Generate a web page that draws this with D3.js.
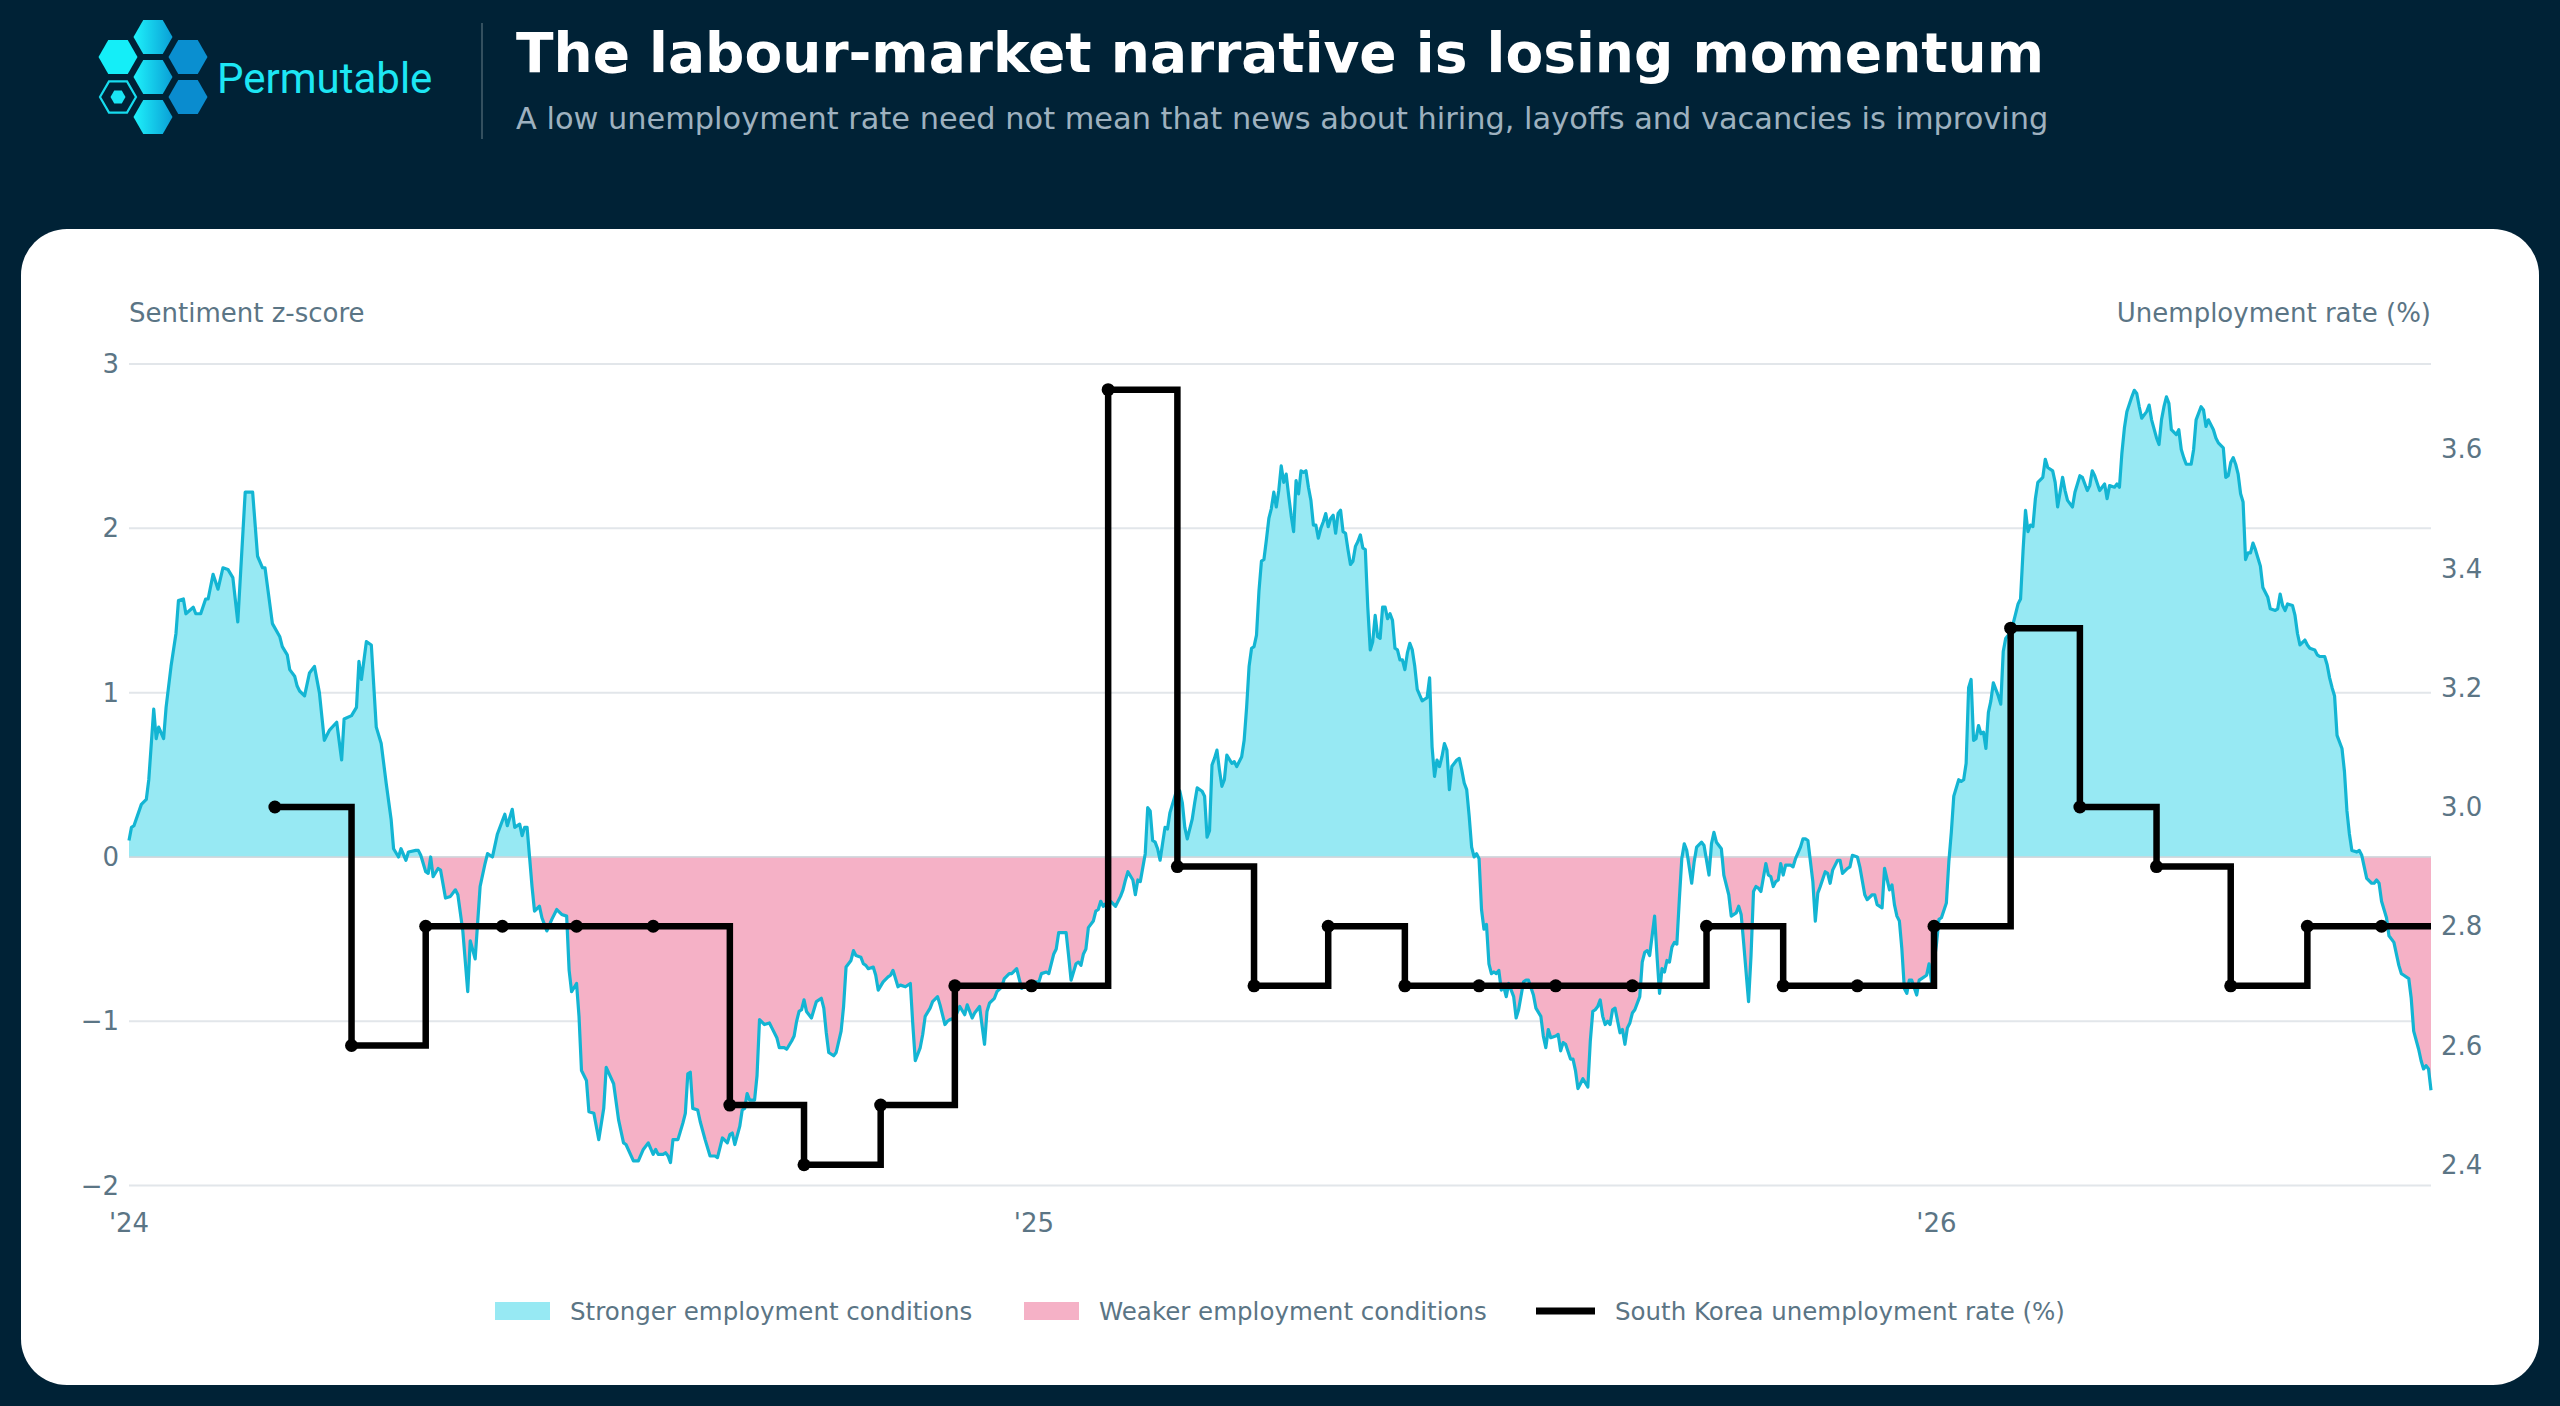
<!DOCTYPE html>
<html>
<head>
<meta charset="utf-8">
<script src="https://cdn.jsdelivr.net/npm/d3@7"></script>
<style>
  html, body { margin: 0; padding: 0; background: #002236; }
  svg { display: block; }
</style>
</head>
<body>
<script>
const startDate = Date.UTC(2024, 0, 1)
const endDate = Date.UTC(2026, 6, 20)

// sentiment z-score, [days since 1 Jan 2024, value]
const sentiment = [
  [0,0.10],[1,0.18],[2,0.19],[5,0.32],[7,0.35],[8,0.47],[10,0.90],[11,0.72],[12,0.79],[14,0.72],
  [15,0.91],[17,1.16],[19,1.36],[20,1.56],[22,1.57],[23,1.48],[26,1.52],[27,1.48],[29,1.48],[31,1.57],
  [32,1.57],[34,1.72],[36,1.63],[38,1.76],[40,1.75],[42,1.70],[44,1.43],[47,2.22],[50,2.22],[52,1.83],
  [54,1.76],[55,1.76],[58,1.42],[61,1.34],[62,1.28],[64,1.23],[65,1.14],[67,1.10],[68,1.04],[69,1.01],
  [71,0.98],[73,1.12],[75,1.16],[77,1.00],[79,0.71],[81,0.77],[84,0.82],[86,0.59],[87,0.84],[90,0.86],
  [92,0.91],[93,1.19],[94,1.08],[96,1.31],[98,1.29],[100,0.79],[102,0.69],[104,0.45],
  [106,0.23],[107,0.05],[109,0.00],[110,0.05],[112,-0.02],[113,0.03],[116,0.04],[117,0.04],[118,0.01],[120,-0.09],
  [121,-0.10],[122,0.00],[123,-0.12],[125,-0.07],[126,-0.08],[128,-0.25],[130,-0.24],[132,-0.20],[133,-0.23],[135,-0.45],
  [137,-0.82],[138,-0.51],[140,-0.62],[142,-0.18],[144,-0.04],[145,0.02],[147,0.00],[149,0.14],[151,0.22],[152,0.26],
  [153,0.19],[155,0.29],[156,0.18],[158,0.20],[159,0.13],[160,0.18],[161,0.18],[163,-0.18],[164,-0.33],[166,-0.30],
  [167,-0.37],[169,-0.45],[171,-0.38],[173,-0.32],[175,-0.35],[177,-0.36],[178,-0.69],[179,-0.82],[181,-0.77],[182,-0.97],
  [183,-1.30],[185,-1.36],[186,-1.55],[188,-1.56],[190,-1.72],[192,-1.53],[193,-1.28],[196,-1.38],[198,-1.60],[200,-1.74],
  [201,-1.75],[204,-1.85],[206,-1.85],[208,-1.78],
  [210,-1.74],[212,-1.81],[213,-1.78],[214,-1.81],[216,-1.81],[217,-1.80],[218,-1.82],[219,-1.86],[220,-1.72],[222,-1.72],
  [223,-1.67],[224,-1.62],[225,-1.56],[226,-1.32],[227,-1.31],[228,-1.53],[230,-1.54],[231,-1.61],[233,-1.72],[235,-1.82],
  [237,-1.82],[238,-1.83],[240,-1.71],[242,-1.74],[243,-1.69],[244,-1.68],[245,-1.75],[247,-1.64],[248,-1.54],[249,-1.53],
  [250,-1.44],[251,-1.48],[253,-1.48],[254,-1.33],[255,-0.99],[257,-1.02],[259,-1.01],[260,-1.04],[262,-1.10],[263,-1.16],
  [265,-1.16],[266,-1.17],[268,-1.12],[269,-1.09],[270,-1.00],[271,-0.94],[272,-0.93],[273,-0.87],[274,-0.94],[276,-0.98],
  [277,-0.93],[278,-0.88],[280,-0.86],[281,-0.92],[282,-1.07],[283,-1.19],[285,-1.21],[286,-1.19],[288,-1.06],[289,-0.91],
  [290,-0.67],[292,-0.63],[293,-0.57],[294,-0.60],[296,-0.61],[297,-0.65],[298,-0.66],[299,-0.68],[301,-0.67],[302,-0.72],
  [303,-0.81],[305,-0.76],[307,-0.73],[308,-0.72],[309,-0.69],[311,-0.79],[312,-0.78],
  [314,-0.79],[316,-0.77],[317,-1.02],[318,-1.24],[320,-1.16],[321,-1.08],[322,-0.97],[324,-0.92],[325,-0.88],[327,-0.85],
  [328,-0.90],[330,-1.02],[331,-1.00],[332,-0.99],[334,-0.98],[336,-0.91],[338,-0.96],[339,-0.90],[341,-0.98],[342,-0.95],
  [344,-0.91],[346,-1.14],[347,-0.94],[348,-0.89],[350,-0.86],[351,-0.82],[353,-0.79],[354,-0.74],[356,-0.71],[357,-0.71],
  [359,-0.68],[360,-0.74],[361,-0.80],[363,-0.78],[365,-0.76],[368,-0.76],[369,-0.71],[371,-0.70],[372,-0.71],[374,-0.59],
  [375,-0.56],[376,-0.46],[378,-0.46],[379,-0.46],[380,-0.60],[381,-0.75],[383,-0.65],[384,-0.64],[385,-0.66],[386,-0.59],
  [387,-0.56],[388,-0.43],[390,-0.39],[391,-0.33],[392,-0.32],[393,-0.27],[394,-0.30],[396,-0.27],[397,-0.27],[399,-0.30],
  [401,-0.24],[402,-0.20],[403,-0.14],[404,-0.09],[406,-0.14],[407,-0.23],[408,-0.14],[409,-0.15],[411,0.02],[412,0.30],
  [413,0.28],[414,0.10],[415,0.09],
  [416,0.05],[417,-0.02],[418,0.08],[419,0.18],[420,0.17],[421,0.27],[422,0.32],[424,0.42],[425,0.40],[426,0.33],
  [427,0.18],[428,0.11],[430,0.23],[431,0.33],[432,0.42],[434,0.40],[435,0.37],[436,0.12],[437,0.16],[438,0.56],
  [439,0.60],[440,0.65],[441,0.53],[442,0.43],[443,0.47],[444,0.62],[446,0.57],[447,0.58],[448,0.55],[450,0.61],
  [451,0.71],[452,0.91],[453,1.16],[454,1.27],[455,1.28],[456,1.35],[457,1.62],[458,1.80],[459,1.81],[460,1.93],
  [461,2.06],[462,2.12],[463,2.22],[464,2.13],[465,2.23],[466,2.38],[467,2.28],[468,2.33],[469,2.20],[470,2.08],
  [471,1.98],[472,2.29],[473,2.21],[474,2.35],[475,2.34],[476,2.35],[477,2.25],[478,2.17],[479,2.02],[480,2.02],
  [481,1.94],[482,2.00],[483,2.04],[484,2.09],[485,2.01],[486,2.06],[487,2.08],[488,1.97],[489,2.09],[490,2.11],
  [491,1.98],[492,1.97],[493,1.87],[494,1.78],[495,1.80],[496,1.89],[497,1.92],[498,1.96],[499,1.88],[500,1.87],
  [501,1.52],[502,1.26],[503,1.31],[504,1.47],[505,1.34],[506,1.33],[507,1.52],[508,1.52],[509,1.45],[510,1.48],
  [511,1.44],[512,1.27],[513,1.26],[514,1.20],[515,1.20],[516,1.14],[517,1.24],[518,1.30],[519,1.26],
  [520,1.16],[521,1.02],[523,0.95],[524,0.96],[525,0.97],[526,1.09],[527,0.67],[528,0.49],[529,0.59],[530,0.55],
  [531,0.61],[532,0.69],[533,0.65],[534,0.41],[535,0.55],[537,0.59],[538,0.60],[539,0.53],[540,0.45],[541,0.41],
  [542,0.25],[543,0.06],[544,0.00],[545,0.02],[546,-0.01],[547,-0.32],[548,-0.44],[549,-0.41],[550,-0.65],[551,-0.71],
  [552,-0.70],[553,-0.71],[554,-0.69],[555,-0.81],[556,-0.79],[557,-0.85],[558,-0.77],[560,-0.85],[561,-0.98],[562,-0.93],
  [564,-0.76],[565,-0.75],[566,-0.75],[568,-0.84],[569,-0.92],[571,-0.97],[572,-1.09],[573,-1.16],[574,-1.05],[575,-1.10],
  [577,-1.09],[578,-1.08],[579,-1.18],[580,-1.13],[581,-1.14],[583,-1.23],[584,-1.23],[585,-1.30],[586,-1.41],[587,-1.38],
  [588,-1.35],[590,-1.40],[591,-1.12],[592,-0.94],[593,-0.93],[594,-0.91],[595,-0.87],[596,-0.97],[597,-1.02],[598,-1.00],
  [599,-1.02],[600,-0.93],[601,-0.92],[603,-1.07],[604,-1.05],[605,-1.14],[606,-1.04],[607,-1.01],[608,-0.95],[609,-0.93],
  [611,-0.85],[612,-0.64],[613,-0.58],[614,-0.57],[615,-0.60],[617,-0.36],[618,-0.61],[619,-0.83],[620,-0.68],[621,-0.70],
  [622,-0.63],
  [623,-0.64],[624,-0.55],[625,-0.52],[626,-0.53],[627,-0.26],[628,-0.01],[629,0.08],[630,0.04],[632,-0.16],[633,-0.03],
  [634,0.06],[636,0.09],[637,0.07],[639,-0.11],[640,0.08],[641,0.15],[642,0.09],[644,0.05],[645,-0.11],[647,-0.23],
  [648,-0.36],[650,-0.34],[651,-0.30],[652,-0.35],[653,-0.52],[655,-0.88],[656,-0.60],[657,-0.21],[658,-0.18],[659,-0.19],
  [660,-0.21],[662,-0.04],[663,-0.11],[664,-0.12],[665,-0.18],[666,-0.15],[667,-0.14],[668,-0.04],[669,-0.11],[670,-0.05],
  [672,-0.05],[673,-0.06],[674,-0.01],[676,0.06],[677,0.11],[678,0.11],[679,0.10],[681,-0.15],[682,-0.39],[683,-0.22],
  [684,-0.18],[686,-0.09],[687,-0.10],[688,-0.16],[689,-0.08],[691,-0.02],[692,-0.02],[693,-0.10],[695,-0.07],[696,-0.06],
  [697,0.01],[699,0.00],[700,-0.06],[702,-0.23],[703,-0.26],[705,-0.23],[706,-0.23],[707,-0.29],[709,-0.31],[710,-0.07],
  [712,-0.20],[713,-0.17],[714,-0.29],[715,-0.36],[716,-0.39],[717,-0.56],[718,-0.80],[719,-0.83],[720,-0.75],[721,-0.75],
  [723,-0.84],[724,-0.75],[725,-0.74],
  [727,-0.72],[728,-0.65],[729,-0.76],[731,-0.53],[732,-0.38],[733,-0.37],[735,-0.28],[736,-0.03],[737,0.15],[738,0.37],
  [740,0.47],[741,0.46],[742,0.47],[743,0.57],[744,1.03],[745,1.08],[746,0.71],[747,0.72],[748,0.80],[749,0.75],
  [750,0.76],[751,0.66],[752,0.88],[753,0.95],[754,1.06],[756,0.98],[757,0.93],[758,1.25],[759,1.33],[760,1.35],
  [762,1.42],[763,1.48],[764,1.54],[765,1.57],[766,1.86],[767,2.11],[768,1.98],[769,2.02],[770,2.01],[771,2.18],
  [772,2.28],[774,2.31],[775,2.42],[776,2.37],[778,2.35],[779,2.28],[780,2.13],[782,2.31],[783,2.23],[784,2.17],
  [786,2.13],[787,2.22],[789,2.32],[790,2.31],[792,2.23],[793,2.26],[794,2.35],[795,2.32],[797,2.23],[798,2.25],
  [799,2.27],[800,2.18],[801,2.26],[803,2.25],[804,2.27],[805,2.25],[806,2.46],[807,2.61],[808,2.71],[810,2.80],
  [811,2.84],[812,2.82],[813,2.74],[814,2.67],[816,2.71],[817,2.75],[818,2.66],[820,2.55],[821,2.51],[822,2.66],
  [823,2.74],[824,2.80],[825,2.76],[826,2.60],
  [828,2.57],[829,2.60],[830,2.48],[831,2.43],[832,2.39],[834,2.39],[835,2.48],[836,2.66],[838,2.74],[839,2.72],
  [840,2.62],[841,2.66],[843,2.60],[844,2.55],[845,2.52],[847,2.49],[848,2.31],[849,2.32],[850,2.40],[851,2.43],
  [852,2.39],[853,2.33],[854,2.21],[855,2.16],[856,1.81],[857,1.85],[858,1.85],[859,1.91],[860,1.87],[862,1.77],
  [863,1.64],[865,1.58],[866,1.51],[868,1.50],[869,1.51],[870,1.60],[871,1.53],[872,1.50],[873,1.54],[875,1.53],
  [876,1.47],[877,1.36],[878,1.29],[880,1.32],[881,1.29],[882,1.27],[884,1.26],[885,1.23],[886,1.22],[888,1.22],
  [889,1.17],[890,1.09],[891,1.03],[892,0.98],[893,0.74],[895,0.66],[896,0.52],[897,0.28],[898,0.14],[899,0.04],
  [901,0.03],[902,0.04],[903,0.01],[904,-0.06],[905,-0.13],[907,-0.16],[908,-0.16],[909,-0.14],[910,-0.16],[911,-0.27],
  [913,-0.37],[914,-0.48],[916,-0.52],[918,-0.66],[919,-0.71],[920,-0.72],[922,-0.74],[923,-0.86],[924,-1.06],[926,-1.17],
  [927,-1.24],[928,-1.29],[929,-1.27],[930,-1.29],[931,-1.42]
]

const unemploymentMonth = [
  '2024-02','2024-03','2024-04','2024-05','2024-06','2024-07','2024-08','2024-09','2024-10','2024-11','2024-12',
  '2025-01','2025-02','2025-03','2025-04','2025-05','2025-06','2025-07','2025-08','2025-09','2025-10','2025-11','2025-12',
  '2026-01','2026-02','2026-03','2026-04','2026-05','2026-06'
]
const unemploymentRate = [
  3.0, 2.6, 2.8, 2.8, 2.8, 2.8, 2.5, 2.4, 2.5, 2.7, 2.7,
  3.7, 2.9, 2.7, 2.8, 2.7, 2.7, 2.7, 2.7, 2.8, 2.7, 2.7, 2.8,
  3.3, 3.0, 2.9, 2.7, 2.8, 2.8
]

const leftTicks = [-2, -1, 0, 1, 2, 3]
const rightTicks = [2.4, 2.6, 2.8, 3.0, 3.2, 3.4, 3.6]
const yearTicks = [Date.UTC(2024, 0, 1), Date.UTC(2025, 0, 1), Date.UTC(2026, 0, 1)]
const legendLabels = ['Stronger employment conditions', 'Weaker employment conditions', 'South Korea unemployment rate (%)']

const title = 'The labour-market narrative is losing momentum'
const subtitle = 'A low unemployment rate need not mean that news about hiring, layoffs and vacancies is improving'

const width = 2560
const height = 1406
const plot = { left: 129, right: 2431, top: 364, bottom: 1185.6 }

const cyanFill = '#97e9f3'
const pinkFill = '#f5b1c6'
const lineColor = '#13b5d3'
const textColor = '#5b7585'
const font = 'DejaVu Sans, sans-serif'

const svg = d3.select('body')
  .append('svg')
  .attr('width', width)
  .attr('height', height)

svg.append('rect')
  .attr('width', width)
  .attr('height', height)
  .attr('fill', '#002236')

// header: logo
const defs = svg.append('defs')
const grad = defs.append('linearGradient')
  .attr('id', 'hexGrad')
  .attr('x1', '0%').attr('x2', '100%').attr('y1', '0%').attr('y2', '0%')
grad.append('stop').attr('offset', '0%').attr('stop-color', '#1ef2fb')
grad.append('stop').attr('offset', '100%').attr('stop-color', '#0a9fd6')

const hexPath = (cx, cy, r) => {
  const pts = d3.range(6).map(i => {
    const a = Math.PI / 3 * i
    return [cx + r * Math.cos(a), cy + r * Math.sin(a)]
  })
  return 'M' + pts.map(p => p.join(',')).join('L') + 'Z'
}

const hexes = [
  [153, 37, 'url(#hexGrad)'],
  [118, 57, '#14eef8'],
  [188, 57, '#0a8fd0'],
  [153, 77, 'url(#hexGrad)'],
  [188, 97, '#0a8ccf'],
  [153, 117, 'url(#hexGrad)']
]
const logo = svg.append('g')
logo.selectAll('path.hex')
  .data(hexes)
  .enter()
  .append('path')
  .attr('class', 'hex')
  .attr('d', d => hexPath(d[0], d[1], 19.5))
  .attr('fill', d => d[2])
logo.append('path')
  .attr('d', hexPath(118, 97, 18))
  .attr('fill', 'none')
  .attr('stroke', '#16dcee')
  .attr('stroke-width', 2.2)
logo.append('path')
  .attr('d', hexPath(118, 97, 7.5))
  .attr('fill', '#1ae6f4')

svg.append('text')
  .text('Permutable')
  .attr('x', 217)
  .attr('y', 93)
  .attr('font-family', 'Roboto, sans-serif')
  .attr('font-size', 42)
  .attr('fill', '#1de6f4')

svg.append('line')
  .attr('x1', 482).attr('x2', 482)
  .attr('y1', 23).attr('y2', 139)
  .attr('stroke', '#34505f')
  .attr('stroke-width', 2)

svg.append('text')
  .text(title)
  .attr('x', 516)
  .attr('y', 72)
  .attr('font-family', font)
  .attr('font-weight', 'bold')
  .attr('font-size', 55)
  .attr('fill', '#ffffff')

svg.append('text')
  .text(subtitle)
  .attr('x', 516)
  .attr('y', 129)
  .attr('font-family', font)
  .attr('font-size', 30.4)
  .attr('fill', '#9eb1bf')

// card
svg.append('rect')
  .attr('x', 21)
  .attr('y', 229)
  .attr('width', 2518)
  .attr('height', 1156)
  .attr('rx', 46)
  .attr('fill', '#ffffff')

// scales
const xScale = d3.scaleUtc()
  .domain([startDate, endDate])
  .range([plot.left, plot.right])

const yLeft = d3.scaleLinear()
  .domain([-2, 3])
  .range([plot.bottom, plot.top])

const yRight = d3.scaleLinear()
  .domain([2.365, 3.743])
  .range([plot.bottom, plot.top])

const dayToDate = d => new Date(startDate + d * 864e5)
const monthEnd = m => {
  const [y, mo] = m.split('-').map(Number)
  return new Date(Date.UTC(y, mo, 0))
}

// grid
svg.selectAll('line.grid')
  .data(leftTicks)
  .enter()
  .append('line')
  .attr('class', 'grid')
  .attr('x1', plot.left)
  .attr('x2', plot.right)
  .attr('y1', d => yLeft(d))
  .attr('y2', d => yLeft(d))
  .attr('stroke', '#e2e6ea')
  .attr('stroke-width', 2)

// sentiment area, split at zero with clip paths
const zeroY = yLeft(0)
defs.append('clipPath').attr('id', 'clipUp')
  .append('rect')
  .attr('x', 0).attr('y', 0)
  .attr('width', width).attr('height', zeroY)
defs.append('clipPath').attr('id', 'clipDown')
  .append('rect')
  .attr('x', 0).attr('y', zeroY)
  .attr('width', width).attr('height', height - zeroY)

const area = d3.area()
  .x(d => xScale(dayToDate(d[0])))
  .y0(zeroY)
  .y1(d => yLeft(d[1]))

svg.append('path')
  .datum(sentiment)
  .attr('d', area)
  .attr('fill', cyanFill)
  .attr('clip-path', 'url(#clipUp)')

svg.append('path')
  .datum(sentiment)
  .attr('d', area)
  .attr('fill', pinkFill)
  .attr('clip-path', 'url(#clipDown)')

svg.append('line')
  .attr('x1', plot.left)
  .attr('x2', plot.right)
  .attr('y1', zeroY)
  .attr('y2', zeroY)
  .attr('stroke', '#cfd6db')
  .attr('stroke-width', 1.5)

const sentimentLine = d3.line()
  .x(d => xScale(dayToDate(d[0])))
  .y(d => yLeft(d[1]))

svg.append('path')
  .datum(sentiment)
  .attr('d', sentimentLine)
  .attr('fill', 'none')
  .attr('stroke', lineColor)
  .attr('stroke-width', 3.2)
  .attr('stroke-linejoin', 'round')

// unemployment step line
const rates = unemploymentMonth.map((m, i) => [monthEnd(m), unemploymentRate[i]])
const stepData = rates.concat([[new Date(endDate), unemploymentRate[unemploymentRate.length - 1]]])

const stepLine = d3.line()
  .curve(d3.curveStepAfter)
  .x(d => xScale(d[0]))
  .y(d => yRight(d[1]))

svg.append('path')
  .datum(stepData)
  .attr('d', stepLine)
  .attr('fill', 'none')
  .attr('stroke', '#000000')
  .attr('stroke-width', 6.5)

svg.selectAll('circle.rate')
  .data(rates)
  .enter()
  .append('circle')
  .attr('class', 'rate')
  .attr('cx', d => xScale(d[0]))
  .attr('cy', d => yRight(d[1]))
  .attr('r', 6.5)
  .attr('fill', '#000000')

// axes labels
svg.selectAll('text.lt')
  .data(leftTicks)
  .enter()
  .append('text')
  .attr('class', 'lt')
  .text(d => d < 0 ? '\u2212' + Math.abs(d) : d)
  .attr('x', 119)
  .attr('y', d => yLeft(d))
  .attr('dy', '0.35em')
  .attr('text-anchor', 'end')
  .attr('font-family', font)
  .attr('font-size', 26)
  .attr('fill', textColor)

svg.selectAll('text.rt')
  .data(rightTicks)
  .enter()
  .append('text')
  .attr('class', 'rt')
  .text(d => d3.format('.1f')(d))
  .attr('x', 2441)
  .attr('y', d => yRight(d))
  .attr('dy', '0.35em')
  .attr('font-family', font)
  .attr('font-size', 26)
  .attr('fill', textColor)

svg.selectAll('text.xt')
  .data(yearTicks)
  .enter()
  .append('text')
  .attr('class', 'xt')
  .text(d => "'" + String(new Date(d).getUTCFullYear()).slice(2))
  .attr('x', d => xScale(d))
  .attr('y', 1232)
  .attr('text-anchor', 'middle')
  .attr('font-family', font)
  .attr('font-size', 26)
  .attr('fill', textColor)

svg.append('text')
  .text('Sentiment z-score')
  .attr('x', plot.left)
  .attr('y', 322)
  .attr('font-family', font)
  .attr('font-size', 26)
  .attr('fill', textColor)

svg.append('text')
  .text('Unemployment rate (%)')
  .attr('x', plot.right)
  .attr('y', 322)
  .attr('text-anchor', 'end')
  .attr('font-family', font)
  .attr('font-size', 26)
  .attr('fill', textColor)

// legend
const legendX = [495, 1024, 1536]
const legend = svg.selectAll('g.legend')
  .data(legendLabels)
  .enter()
  .append('g')
  .attr('class', 'legend')
  .attr('transform', (d, i) => `translate(${legendX[i]},1311)`)

legend.append('rect')
  .attr('x', 0)
  .attr('y', (d, i) => i < 2 ? -9 : -3.5)
  .attr('width', (d, i) => i < 2 ? 55 : 59)
  .attr('height', (d, i) => i < 2 ? 18 : 7)
  .attr('fill', (d, i) => [cyanFill, pinkFill, '#000000'][i])

legend.append('text')
  .text(d => d)
  .attr('x', (d, i) => i < 2 ? 75 : 79)
  .attr('y', 0)
  .attr('dy', '0.35em')
  .attr('font-family', font)
  .attr('font-size', 24.5)
  .attr('fill', textColor)
</script>
</body>
</html>
